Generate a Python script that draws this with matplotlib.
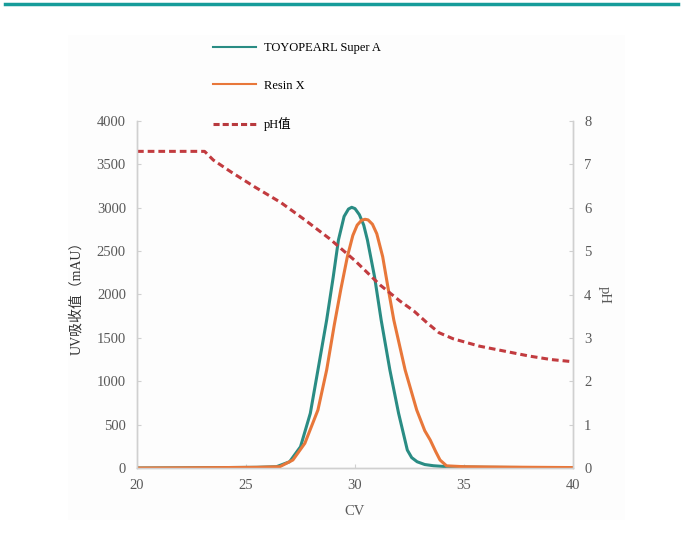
import matplotlib
matplotlib.use("Agg")
import matplotlib.pyplot as plt
from matplotlib.lines import Line2D
from matplotlib.patches import Rectangle

# 数据
teal_cv = [20, 22, 24, 25.5, 26.4, 27.0, 27.5, 27.95, 28.3, 28.7, 29.0, 29.24, 29.5,
           29.7, 29.85, 30.0, 30.2, 30.4, 30.57, 30.9, 31.2, 31.6, 32.0, 32.4, 32.6,
           32.85, 33.2, 33.6, 34.2, 36, 38, 40]
teal_uv = [0, 2, 5, 8, 15, 72, 245, 630, 1130, 1706, 2200, 2628, 2900,
           2985, 3005, 2990, 2920, 2800, 2628, 2200, 1706, 1130, 630, 207, 120,
           72, 40, 26, 15, 8, 5, 3]

orange_cv = [20, 22, 24, 25.5, 26.55, 27.15, 27.7, 28.3, 28.7, 29.05, 29.35, 29.65, 29.9,
             30.1, 30.3, 30.46, 30.6, 30.8, 31.0, 31.27, 31.5, 31.78, 32.3, 32.83, 33.2,
             33.45, 33.7, 33.9, 34.2, 35, 37, 40]
orange_uv = [0, 2, 5, 8, 15, 92, 285, 669, 1130, 1650, 2060, 2436, 2680,
             2800, 2855, 2867, 2860, 2810, 2700, 2436, 2100, 1706, 1130, 669, 430,
             323, 190, 92, 25, 15, 10, 5]

ph_cv = [20, 23.1, 23.5, 24.3, 25.4, 26.6, 27.7, 28.85, 30.0, 31.15,
         32.06, 32.7, 33.3, 33.85, 34.5, 35.7, 37.0, 38.0, 39.0, 40.0]
ph_val = [7.30, 7.30, 7.10, 6.83, 6.48, 6.12, 5.72, 5.28, 4.78, 4.22,
          3.85, 3.62, 3.35, 3.12, 2.98, 2.81, 2.68, 2.58, 2.50, 2.45]

labels = ["TOYOPEARL Super A", "Resin X", "pH值"]

plt.rcParams['font.family'] = ['Liberation Serif', 'Noto Sans CJK SC']

teal = "#2a8c84"
orange = "#e8773a"
red = "#c23b3f"
grey = "#595959"
spine_c = "#d0d0d0"

fig = plt.figure(figsize=(6.81, 5.41), dpi=100)

# 顶部的青色横线和浅色背景
fig.add_artist(Line2D([5 / 681, 678 / 681], [1 - 4 / 541, 1 - 4 / 541],
                      color="#179c9a", linewidth=2.5))
fig.add_artist(Rectangle((68 / 681, 1 - 520 / 541), 557 / 681, 485 / 541,
                         facecolor="#fdfdfd", edgecolor="none", zorder=0))

ax = fig.add_axes([137 / 681, 73 / 541, 436 / 681, 347 / 541])
ax.patch.set_alpha(0)
ax2 = ax.twinx()

ax.plot(teal_cv, teal_uv, color=teal, linewidth=2.2, zorder=3)
ax.plot(orange_cv, orange_uv, color=orange, linewidth=2.2, zorder=3)
ax2.plot(ph_cv, ph_val, color=red, linewidth=2.2, linestyle=(0, (2.2, 1.3)))

ax.set_xlim(20, 40)
ax.set_ylim(0, 4000)
ax2.set_ylim(0, 8)
ax.set_xticks([20, 25, 30, 35, 40])
ax.set_yticks(range(0, 4001, 500))
ax2.set_yticks(range(0, 9))

for a in (ax, ax2):
    a.spines['top'].set_visible(False)
    for s in ('left', 'right', 'bottom'):
        a.spines[s].set_color(spine_c)
        a.spines[s].set_linewidth(1.0)
    a.tick_params(direction='in', length=3, color=spine_c, labelcolor=grey,
                  labelsize=10.5, pad=8)

ax.set_xlabel("CV", color=grey, fontsize=10.5, labelpad=9)
ax.set_ylabel("UV吸收值（mAU）", color="#333333", fontsize=10, labelpad=10)
ax2.set_ylabel("pH", color=grey, fontsize=10.5, rotation=270, labelpad=14)

handles = [Line2D([], [], color=teal, linewidth=1.5),
           Line2D([], [], color=orange, linewidth=1.5),
           Line2D([], [], color="#b83a3e", linewidth=2.2, linestyle=(0, (2, 1)))]
fig.legend(handles, labels, loc='upper left', bbox_to_anchor=(213 / 681, 1 - 42 / 541),
           frameon=False, fontsize=9, handlelength=3.4, labelspacing=2.05,
           handletextpad=0.7, borderpad=0, borderaxespad=0)

fig.savefig("out.png", dpi=100)
